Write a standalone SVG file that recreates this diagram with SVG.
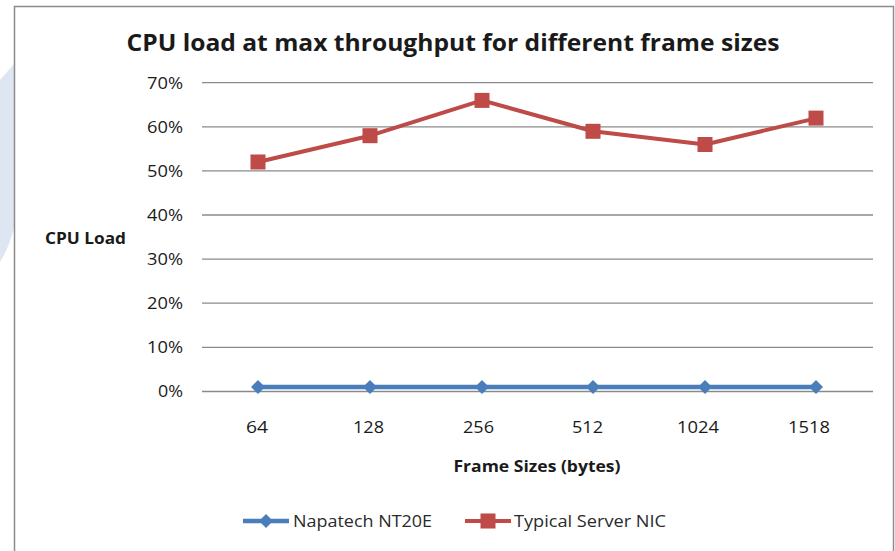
<svg xmlns="http://www.w3.org/2000/svg" width="895" height="551" viewBox="0 0 895 551">
<style>
text{font-family:"Open Sans","Noto Sans","Liberation Sans",sans-serif;fill:#1a1a1a}
.t{font-size:23px;font-weight:bold}
.ax{font-size:17px;fill:#2a2a2a}
.axb{font-size:16.5px;font-weight:bold}
.lg{font-size:16px;fill:#2a2a2a}
.grid line{stroke:#8a8a8a;stroke-width:1.3}
.red{fill:none;stroke:#be4b48;stroke-width:4;stroke-linejoin:round}
.blue{fill:none;stroke:#4a7ebb;stroke-width:4.5}
.sq{fill:#be4b48}
.dm{fill:#4a7ebb}
</style>
<defs>
<rect id="sqm" x="-7.5" y="-7.5" width="15" height="15" class="sq"/>
<polygon id="dmm" points="0,-7 7,0 0,7 -7,0" class="dm"/>
</defs>
<rect width="895" height="551" fill="#ffffff"/>
<path d="M0,80 L14,64 L14,228 Q8,250 0,262 Z" fill="#dde6f1"/>
<rect x="14.5" y="6.5" width="879" height="560" fill="#ffffff" stroke="#8c8c8c" stroke-width="1.5"/>
<g id="title"><text class="t" x="453" y="51" text-anchor="middle" textLength="653" lengthAdjust="spacingAndGlyphs">CPU load at max throughput for different frame sizes</text></g>
<g id="gridlines" class="grid">
<line x1="202" y1="82.7" x2="873" y2="82.7"/>
<line x1="202" y1="126.8" x2="873" y2="126.8"/>
<line x1="202" y1="170.9" x2="873" y2="170.9"/>
<line x1="202" y1="215" x2="873" y2="215"/>
<line x1="202" y1="259.1" x2="873" y2="259.1"/>
<line x1="202" y1="303.2" x2="873" y2="303.2"/>
<line x1="202" y1="347.3" x2="873" y2="347.3"/>
<line x1="202" y1="391.5" x2="873" y2="391.5"/>
</g>
<g id="yaxis" class="ax" text-anchor="end">
<text x="183" y="89" textLength="36" lengthAdjust="spacingAndGlyphs">70%</text>
<text x="183" y="133" textLength="36" lengthAdjust="spacingAndGlyphs">60%</text>
<text x="183" y="177" textLength="36" lengthAdjust="spacingAndGlyphs">50%</text>
<text x="183" y="221" textLength="36" lengthAdjust="spacingAndGlyphs">40%</text>
<text x="183" y="265" textLength="36" lengthAdjust="spacingAndGlyphs">30%</text>
<text x="183" y="309" textLength="36" lengthAdjust="spacingAndGlyphs">20%</text>
<text x="183" y="353" textLength="36" lengthAdjust="spacingAndGlyphs">10%</text>
<text x="183" y="397" textLength="25" lengthAdjust="spacingAndGlyphs">0%</text>
</g>
<g id="ylabel"><text class="axb" x="45" y="244" textLength="81" lengthAdjust="spacingAndGlyphs">CPU Load</text></g>
<g id="xaxis" class="ax" text-anchor="middle">
<text x="257" y="433" textLength="22" lengthAdjust="spacingAndGlyphs">64</text>
<text x="368.5" y="433" textLength="31" lengthAdjust="spacingAndGlyphs">128</text>
<text x="478.5" y="433" textLength="31" lengthAdjust="spacingAndGlyphs">256</text>
<text x="587.5" y="433" textLength="31" lengthAdjust="spacingAndGlyphs">512</text>
<text x="698" y="433" textLength="42" lengthAdjust="spacingAndGlyphs">1024</text>
<text x="809" y="433" textLength="42" lengthAdjust="spacingAndGlyphs">1518</text>
</g>
<g id="xlabel"><text class="axb" x="537" y="472" text-anchor="middle" textLength="167" lengthAdjust="spacingAndGlyphs">Frame Sizes (bytes)</text></g>
<g id="connectors">
<polyline class="blue" points="258,387 370,387 482,387 593,387 705,387 817,387"/>
<polyline class="red" points="258,162 370,135.7 482,100.4 593,131.3 705,144.5 817,118.1"/>
</g>
<g id="napatech-markers">
<use href="#dmm" x="258" y="387"/><use href="#dmm" x="370" y="387"/><use href="#dmm" x="482" y="387"/><use href="#dmm" x="593" y="387"/><use href="#dmm" x="705" y="387"/><use href="#dmm" x="816" y="387"/>
</g>
<g id="server-markers">
<use href="#sqm" x="258" y="162"/><use href="#sqm" x="370" y="135.7"/><use href="#sqm" x="482" y="100.4"/><use href="#sqm" x="593" y="131.3"/><use href="#sqm" x="705" y="144.5"/><use href="#sqm" x="816" y="118.1"/>
</g>
<g id="legend-napatech">
<line x1="243" y1="521" x2="289" y2="521" class="blue"/>
<use href="#dmm" x="266" y="521"/>
<text class="lg" x="293" y="527" textLength="139" lengthAdjust="spacingAndGlyphs">Napatech NT20E</text>
</g>
<g id="legend-server">
<line x1="465" y1="521" x2="511" y2="521" class="red"/>
<use href="#sqm" x="488" y="521"/>
<text class="lg" x="514" y="527" textLength="152" lengthAdjust="spacingAndGlyphs">Typical Server NIC</text>
</g>
</svg>
